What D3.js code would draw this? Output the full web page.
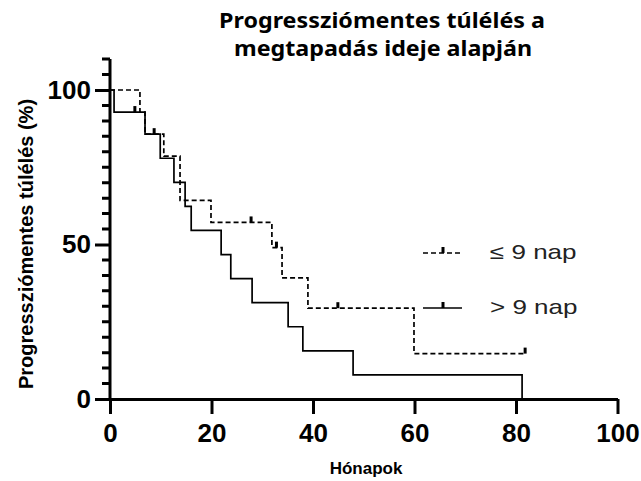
<!DOCTYPE html>
<html>
<head>
<meta charset="utf-8">
<script src="https://cdn.jsdelivr.net/npm/d3@7"></script>
<style>
  body { margin: 0; background: #fff; }
  svg { display: block; }
  .tick text { font-family: "Liberation Sans", Arial, sans-serif; font-weight: bold; }
</style>
</head>
<body>
<svg id="chart" width="641" height="481"></svg>
<script>
// Kaplan-Meier steps (months, survival %)
const shortTimes = [0, 5.9, 6.9, 10.6, 13.8, 19.9, 31.9, 33.9, 39.0, 59.9, 81.8];
const shortSurv  = [100, 92.86, 85.71, 78.57, 64.29, 57.14, 48.98, 39.18, 29.39, 14.69, 14.69];
const shortCensorT = [27.8, 32.8, 44.9, 81.8];
const shortCensorS = [57.14, 48.98, 29.39, 14.69];

const longTimes = [0, 0.8, 6.9, 9.9, 12.6, 14.8, 16.0, 21.9, 23.8, 28.0, 35.1, 38.0, 47.9, 81.2];
const longSurv  = [100, 92.86, 85.71, 77.92, 70.13, 62.34, 54.55, 46.75, 38.96, 31.17, 23.38, 15.58, 7.79, 0];
const longCensorT = [4.9, 8.7];
const longCensorS = [92.86, 85.71];

const xTicks = [0, 20, 40, 60, 80, 100];
const yTicks = [0, 50, 100];
const yMinorTicks = [5, 10, 15, 20, 25, 30, 35, 40, 45, 55, 60, 65, 70, 75, 80, 85, 90, 95, 105, 110];
const seriesNames = ["\u2264 9 nap", "> 9 nap"];

const svg = d3.select("#chart");
const stretch = 1.3; // legend text in the original looks stretched sideways

const x = d3.scaleLinear().domain([0, 100]).range([110, 617.5]);
const y = d3.scaleLinear().domain([0, 100]).range([399, 90]);

// title
const title = svg.append("g")
    .attr("font-family", "'Noto Sans', sans-serif")
    .attr("font-weight", "bold")
    .attr("font-size", 21)
    .attr("text-anchor", "middle");
title.append("text").attr("x", 382).attr("y", 28)
    .attr("textLength", 326).attr("lengthAdjust", "spacingAndGlyphs")
    .text("Progressziómentes túlélés a");
title.append("text").attr("x", 383).attr("y", 56)
    .attr("textLength", 298).attr("lengthAdjust", "spacingAndGlyphs")
    .text("megtapadás ideje alapján");

// x axis
const xAxis = svg.append("g")
    .attr("transform", "translate(0," + y(0) + ")")
    .call(d3.axisBottom(x).tickValues(xTicks).tickSize(15).tickSizeOuter(0).tickPadding(10));
xAxis.select(".domain").attr("stroke-width", 3);
xAxis.selectAll(".tick line").attr("stroke-width", 3);
xAxis.selectAll(".tick text")
    .attr("font-size", 26)
    .attr("fill", "#000");

// y axis
const yAxis = svg.append("g")
    .attr("transform", "translate(" + x(0) + ",0)")
    .call(d3.axisLeft(y).tickValues(yTicks).tickSize(15).tickSizeOuter(0).tickPadding(4));
yAxis.select(".domain").attr("d", "M0," + y(0) + "V" + y(110)).attr("stroke-width", 3);
yAxis.selectAll(".tick line").attr("stroke-width", 3);
yAxis.selectAll(".tick text")
    .attr("font-size", 26)
    .attr("fill", "#000");

// minor ticks every 5
svg.append("path")
    .attr("d", yMinorTicks.map(v => "M" + (x(0) - 8) + "," + y(v) + "H" + x(0)).join(""))
    .attr("stroke", "#000")
    .attr("stroke-width", 3)
    .attr("fill", "none");

// axis titles
svg.append("text")
    .attr("x", 366).attr("y", 474)
    .attr("text-anchor", "middle")
    .attr("font-family", "'Liberation Sans', Arial, sans-serif")
    .attr("font-weight", "bold")
    .attr("font-size", 17)
    .text("Hónapok");

svg.append("text")
    .attr("transform", "translate(33,244) rotate(-90)")
    .attr("text-anchor", "middle")
    .attr("font-family", "'Liberation Sans', Arial, sans-serif")
    .attr("font-weight", "bold")
    .attr("font-size", 20)
    .text("Progressziómentes túlélés (%)");

// curves
const line = d3.line()
    .x(d => x(d[0]))
    .y(d => y(d[1]))
    .curve(d3.curveStepAfter);

const shortPts = shortTimes.map((t, i) => [t, shortSurv[i]]);
const longPts = longTimes.map((t, i) => [t, longSurv[i]]);

svg.append("path")
    .datum(longPts)
    .attr("d", line)
    .attr("fill", "none")
    .attr("stroke", "#000")
    .attr("stroke-width", 1.7);

svg.append("path")
    .datum(shortPts)
    .attr("d", line)
    .attr("fill", "none")
    .attr("stroke", "#000")
    .attr("stroke-width", 1.7)
    .attr("stroke-dasharray", "5,3");

// censor marks: short upward ticks
function censor(ts, ss) {
    svg.append("g")
        .selectAll("line")
        .data(ts.map((t, i) => [t, ss[i]]))
        .join("line")
        .attr("x1", d => x(d[0]))
        .attr("x2", d => x(d[0]))
        .attr("y1", d => y(d[1]))
        .attr("y2", d => y(d[1]) - 6)
        .attr("stroke", "#000")
        .attr("stroke-width", 3);
}
censor(shortCensorT, shortCensorS);
censor(longCensorT, longCensorS);

// legend
const legend = svg.append("g")
    .selectAll("g")
    .data(seriesNames)
    .join("g")
    .attr("transform", (d, i) => "translate(423," + (253 + i * 55) + ")");

legend.append("line")
    .attr("x1", 0).attr("x2", 39)
    .attr("stroke", "#000")
    .attr("stroke-width", 1.7)
    .attr("stroke-dasharray", (d, i) => i === 0 ? "5,3" : null);
legend.append("line")
    .attr("x1", 20).attr("x2", 20)
    .attr("y1", 0).attr("y2", -6)
    .attr("stroke", "#000")
    .attr("stroke-width", 3);
legend.append("text")
    .attr("transform", "translate(67,6) scale(" + stretch + ",1)")
    .attr("font-family", "'Liberation Sans', Arial, sans-serif")
    .attr("font-size", 20)
    .attr("fill", "#222")
    .text(d => d);
</script>
</body>
</html>
